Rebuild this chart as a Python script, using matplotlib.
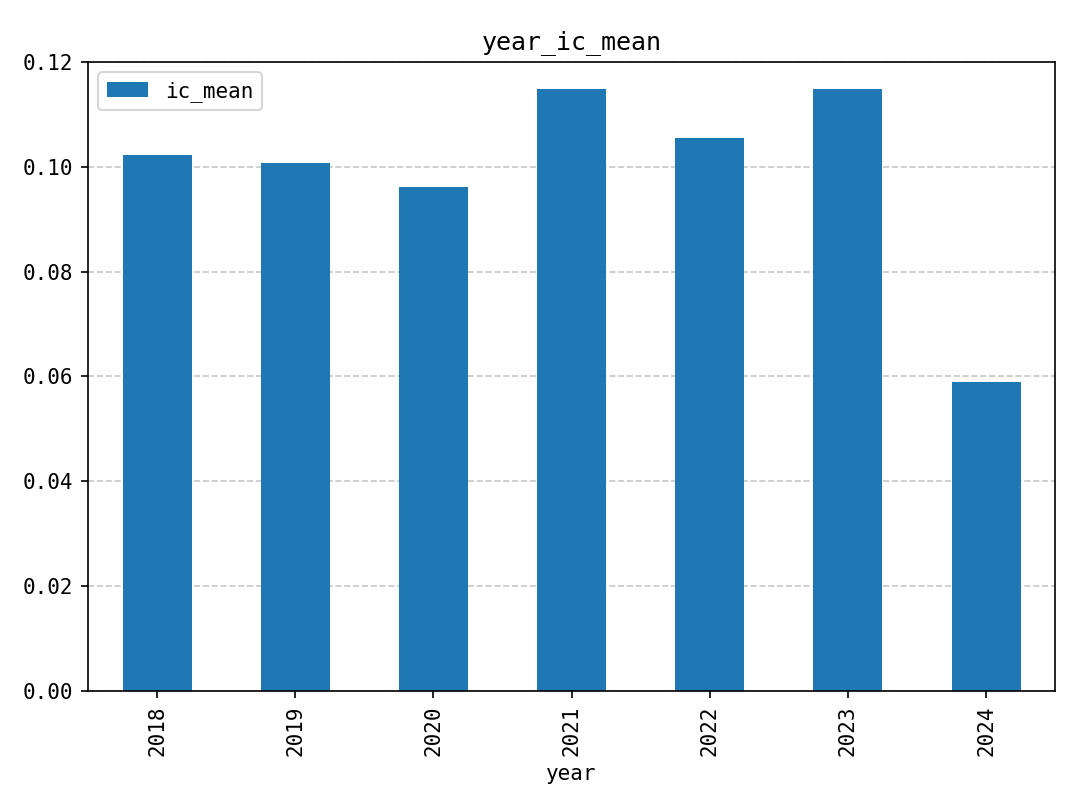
import numpy as np
import matplotlib.pyplot as plt

plt.rcParams['font.family'] = ['DejaVu Sans Mono']

years = ['2018', '2019', '2020', '2021', '2022', '2023', '2024']
ic_mean = [0.1023, 0.1007, 0.0961, 0.1148, 0.1054, 0.1148, 0.0589]

fig, ax = plt.subplots(figsize=(7.2, 5.4), dpi=150)
fig.subplots_adjust(left=0.0815, right=0.977, top=0.9235, bottom=0.147)

r = np.arange(len(years))
ax.bar(r, ic_mean, width=0.5, color='#1f77b4', label='ic_mean')
ax.set_xticks(r)
ax.set_xticklabels(years, rotation=90)
ax.set_xlim(-0.5, len(years) - 0.5)
ax.set_ylim(0, 0.12)
ax.set_yticks(np.arange(0, 0.121, 0.02))
ax.yaxis.set_major_formatter(plt.FormatStrFormatter('%.2f'))
ax.yaxis.grid(True, linestyle='--', alpha=0.7)
ax.set_axisbelow(True)
ax.set_xlabel('year')
ax.set_title('year_ic_mean')
ax.legend(loc='upper left')

plt.savefig('out.png')
